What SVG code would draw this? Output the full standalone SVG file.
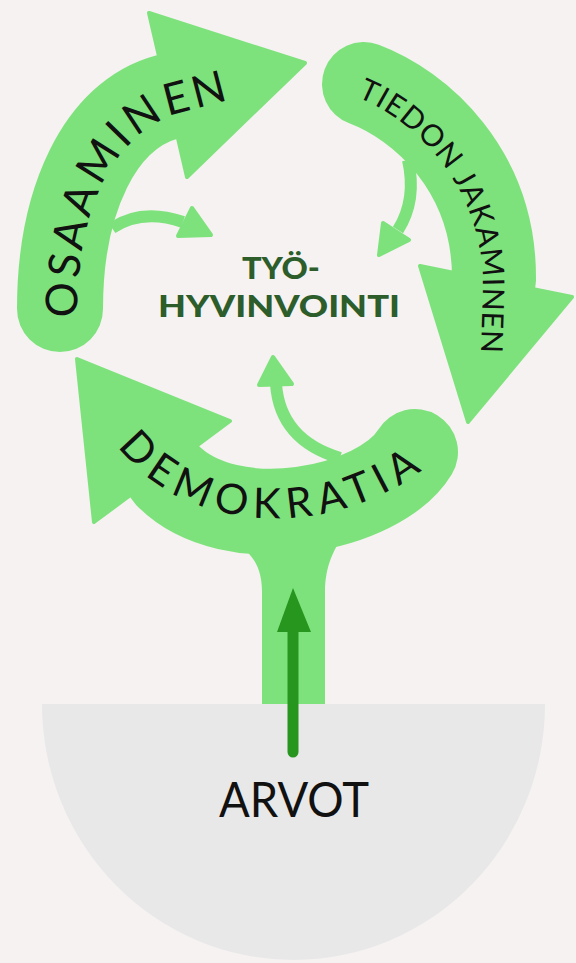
<svg xmlns="http://www.w3.org/2000/svg" width="576" height="963" viewBox="0 0 576 963">
  <style>
    .band { fill: none; stroke: #7ee27c; stroke-linecap: round; }
    .head { fill: #7ee27c; stroke: #7ee27c; stroke-width: 4; stroke-linejoin: round; }
    .twig { fill: none; stroke: #7ee27c; stroke-width: 12; }
    .label { font-family: Lato, "Liberation Sans", sans-serif; fill: #111111; }
    .core { font-family: Lato, "Liberation Sans", sans-serif; font-weight: 900; fill: #2c5d2b; font-size: 31px; }
  </style>
  <defs>
    <path id="osa-base" d="M77,318 C77,210 112,138 175,114 L260,92"/>
    <path id="tie-base" d="M357,97 C410,118 484,182 483,290 L480,380"/>
    <path id="dem-base" d="M118,446 C180,532 330,545 430,464"/>
  </defs>

  <rect width="576" height="963" fill="#f5f2f1"/>

  <!-- ground: values -->
  <g id="arvot">
    <path d="M42,704 A251.5,256 0 0 0 545,704 Z" fill="#e9e8e8"/>
    <text x="294" y="817" text-anchor="middle" font-family="Lato, 'Liberation Sans', sans-serif" font-size="48" fill="#111111" textLength="150" lengthAdjust="spacingAndGlyphs">ARVOT</text>
  </g>

  <!-- stem rising from the ground into the cycle -->
  <g id="stem">
    <path d="M262,704 V592 C262,572 256,556 238,545 L346,532 C334,548 325,566 325,592 V704 Z" fill="#7ee27c"/>
  </g>

  <g id="osaaminen">
    <path class="band" stroke-width="86" d="M60,309 C60,200 100,115 167,97"/>
    <polygon class="head" points="149,13 305,63 187,177"/>
    <text class="label" font-size="44" letter-spacing="4"><textPath href="#osa-base">OSAAMINEN</textPath></text>
  </g>

  <g id="tiedon-jakaminen">
    <path class="band" stroke-width="84" d="M364,84 C420,105 495,170 494,280"/>
    <polygon class="head" points="420,266 572,297 468,422"/>
    <text class="label" font-size="30" letter-spacing="1"><textPath href="#tie-base">TIEDON JAKAMINEN</textPath></text>
  </g>

  <g id="demokratia">
    <path class="band" stroke-width="86" d="M415,452 C380,510 230,540 167,475"/>
    <polygon class="head" points="77,359 230,421 94,522"/>
    <text class="label" font-size="42" letter-spacing="7"><textPath href="#dem-base">DEMOKRATIA</textPath></text>
  </g>

  <g id="tyohyvinvointi">
    <text class="core" x="281" y="279" text-anchor="middle" textLength="78" lengthAdjust="spacingAndGlyphs">TYÖ-</text>
    <text class="core" x="279" y="317" text-anchor="middle" textLength="242" lengthAdjust="spacingAndGlyphs">HYVINVOINTI</text>
  </g>

  <!-- connectors -->
  <g id="connectors">
    <path class="twig" d="M112,228 Q142,208 183,222"/>
    <polygon class="head" points="192,208 211,235 178,236"/>
    <path class="twig" d="M408,160 Q417,200 398,230"/>
    <polygon class="head" points="383,223 409,240 379,255"/>
    <path class="twig" d="M276,384 Q280,440 340,458"/>
    <polygon class="head" points="273,357 292,384 259,385"/>
    <path d="M293,752 V628" fill="none" stroke="#26961f" stroke-width="11" stroke-linecap="round"/>
    <polygon points="277,632 293,588 311,632" fill="#26961f"/>
  </g>
</svg>
